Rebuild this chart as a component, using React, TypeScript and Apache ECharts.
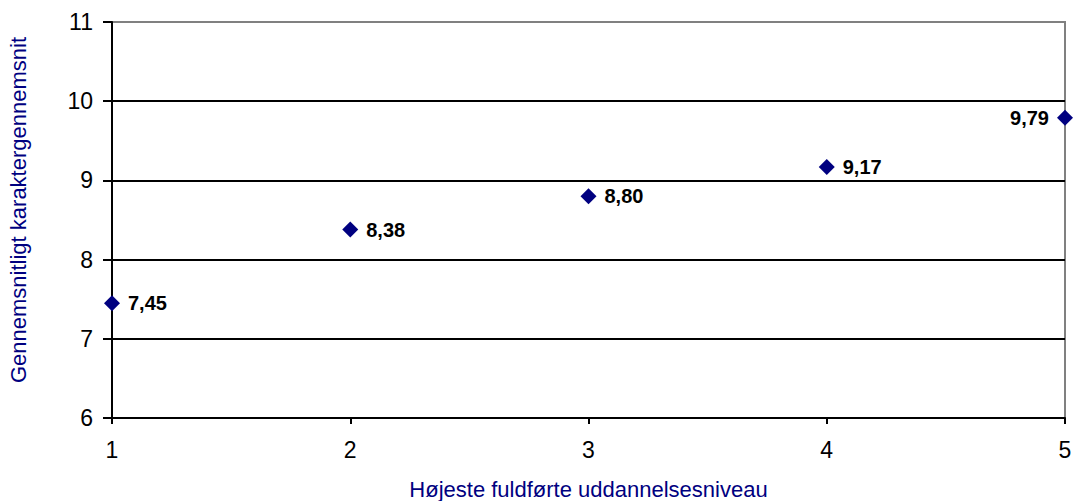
import React, { useEffect, useRef } from "react";
import * as echarts from "echarts";

const xValues = [1, 2, 3, 4, 5];
const yValues = [7.45, 8.38, 8.8, 9.17, 9.79];
const labelSides = ["right", "right", "right", "right", "left"];
const xAxisName = "Højeste fuldførte uddannelsesniveau";
const yAxisName = "Gennemsnitligt karaktergennemsnit";

export default function App() {
  const ref = useRef<HTMLDivElement>(null);
  useEffect(() => {
    if (!ref.current) return;
    const chart = echarts.init(ref.current, null, { renderer: "svg" });
    const data = xValues.map((x, i) => ({
      value: [x, yValues[i]],
      label: { position: labelSides[i] },
    }));
    chart.setOption({
      animation: false,
      backgroundColor: "#ffffff",
      textStyle: { fontFamily: "Arial, 'Liberation Sans', sans-serif" },
      grid: {
        left: 112,
        right: 8,
        top: 22,
        bottom: 83,
        show: true,
        borderColor: "#808080",
        borderWidth: 2,
        outerBoundsMode: "none",
        containLabel: false,
      },
      xAxis: {
        type: "value",
        min: 1,
        max: 5,
        interval: 1,
        name: xAxisName,
        nameLocation: "middle",
        nameGap: 60,
        nameTextStyle: { color: "#000080", fontSize: 22 },
        axisLine: { show: true, lineStyle: { color: "#000", width: 2 } },
        axisTick: { show: true, length: 6, lineStyle: { color: "#000", width: 2 } },
        axisLabel: { color: "#000", fontSize: 23, margin: 20 },
        splitLine: { show: false },
      },
      yAxis: {
        type: "value",
        min: 6,
        max: 11,
        interval: 1,
        name: yAxisName,
        nameLocation: "middle",
        nameGap: 83,
        nameTextStyle: { color: "#000080", fontSize: 22, padding: [0, 0, 0, 20] },
        axisLine: { show: true, lineStyle: { color: "#000", width: 2 } },
        axisTick: { show: true, length: 9, lineStyle: { color: "#000", width: 2 } },
        axisLabel: { color: "#000", fontSize: 23, margin: 19 },
        splitLine: {
          show: true,
          lineStyle: { color: ["#000", "#000", "#000", "#000", "#000", "#808080"], width: 2 },
        },
      },
      series: [
        {
          type: "scatter",
          symbol: "diamond",
          symbolSize: [16, 16],
          itemStyle: { color: "#000080", opacity: 1 },
          data,
          label: {
            show: true,
            fontWeight: "bold",
            fontSize: 20,
            color: "#000",
            opacity: 1,
            distance: 8,
            formatter: (p: any) => p.value[1].toFixed(2).replace(".", ","),
          },
        },
      ],
    });
    return () => chart.dispose();
  }, []);
  return <div ref={ref} style={{ position: "fixed", left: 0, top: 0, width: 1073, height: 501 }} />;
}
